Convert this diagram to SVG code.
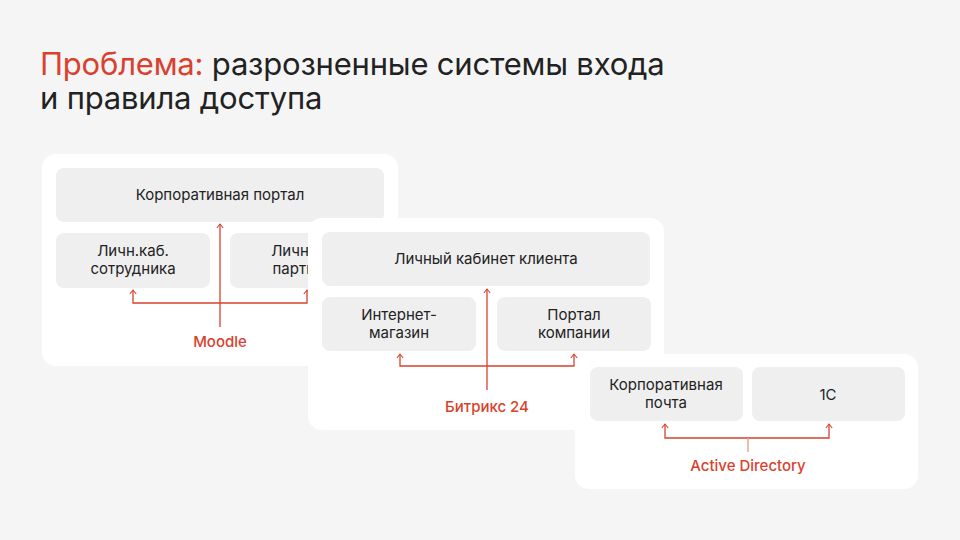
<svg xmlns="http://www.w3.org/2000/svg" width="960" height="540" viewBox="0 0 960 540">
<style>
text{font-family:Inter,"Noto Sans",sans-serif}
.t{font-size:31px;fill:#222;letter-spacing:-0.2px}
.panel{fill:#fff}
.n{fill:#efefef}
.l{font-size:15px;fill:#222;text-anchor:middle}
.r{font-size:15px;fill:#d9412e;text-anchor:middle;font-weight:500}
.c{fill:none;stroke:#d9412e;stroke-width:1.3}
</style>
<defs><marker id="a" viewBox="0 0 10 10" refX="9" refY="5" markerWidth="8" markerHeight="8" orient="auto-start-reverse" markerUnits="userSpaceOnUse"><path d="M4 1 L9 5 L4 9" fill="none" stroke="#d9412e" stroke-width="1.3"/></marker></defs>
<rect width="960" height="540" fill="#f5f5f5"/>
<text class="t" x="40" y="75"><tspan fill="#d9412e">Проблема:</tspan> разрозненные системы входа</text>
<text class="t" x="40" y="109">и правила доступа</text>
<g id="moodle">
<rect class="panel" x="42" y="154" width="356" height="212" rx="14"/>
<g id="n-portal"><rect class="n" x="56" y="168" width="328" height="54" rx="8"/><text class="l" x="220" y="200">Корпоративная портал</text></g>
<g id="n-emp"><rect class="n" x="56" y="233" width="154" height="55" rx="8"/><text class="l" x="133" y="256">Личн.каб.</text><text class="l" x="133" y="274">сотрудника</text></g>
<g id="n-part"><rect class="n" x="230" y="233" width="154" height="55" rx="8"/><text class="l" x="307" y="256">Личн.каб.</text><text class="l" x="307" y="274">партнера</text></g>
<g class="conn"><path class="c" d="M220 327 V224" marker-end="url(#a)"/><path class="c" d="M133 290 V303 H307 V290" marker-start="url(#a)" marker-end="url(#a)"/></g>
<text class="r" x="220" y="347">Moodle</text>
</g>
<g id="bitrix">
<rect class="panel" x="308" y="218" width="356" height="212" rx="14"/>
<g id="n-client"><rect class="n" x="322" y="232" width="328" height="54" rx="8"/><text class="l" x="486" y="264">Личный кабинет клиента</text></g>
<g id="n-shop"><rect class="n" x="322" y="297" width="154" height="54" rx="8"/><text class="l" x="399" y="320">Интернет-</text><text class="l" x="399" y="338">магазин</text></g>
<g id="n-comp"><rect class="n" x="497" y="297" width="154" height="54" rx="8"/><text class="l" x="574" y="320">Портал</text><text class="l" x="574" y="338">компании</text></g>
<g class="conn"><path class="c" d="M487 390 V289" marker-end="url(#a)"/><path class="c" d="M400 354 V366 H574 V354" marker-start="url(#a)" marker-end="url(#a)"/></g>
<text class="r" x="487" y="412">Битрикс 24</text>
</g>
<g id="ad">
<rect class="panel" x="575" y="354" width="343" height="135" rx="14"/>
<g id="n-mail"><rect class="n" x="590" y="367" width="153" height="54" rx="8"/><text class="l" x="666" y="390">Корпоративная</text><text class="l" x="666" y="408">почта</text></g>
<g id="n-1c"><rect class="n" x="752" y="367" width="153" height="54" rx="8"/><text class="l" x="828" y="400">1С</text></g>
<g class="conn"><path class="c" d="M665 424 V438 H829 V424" marker-start="url(#a)" marker-end="url(#a)"/><path d="M748 438 V452" stroke="#e8958a" stroke-width="1.3"/></g>
<text class="r" x="748" y="471">Active Directory</text>
</g>
</svg>
